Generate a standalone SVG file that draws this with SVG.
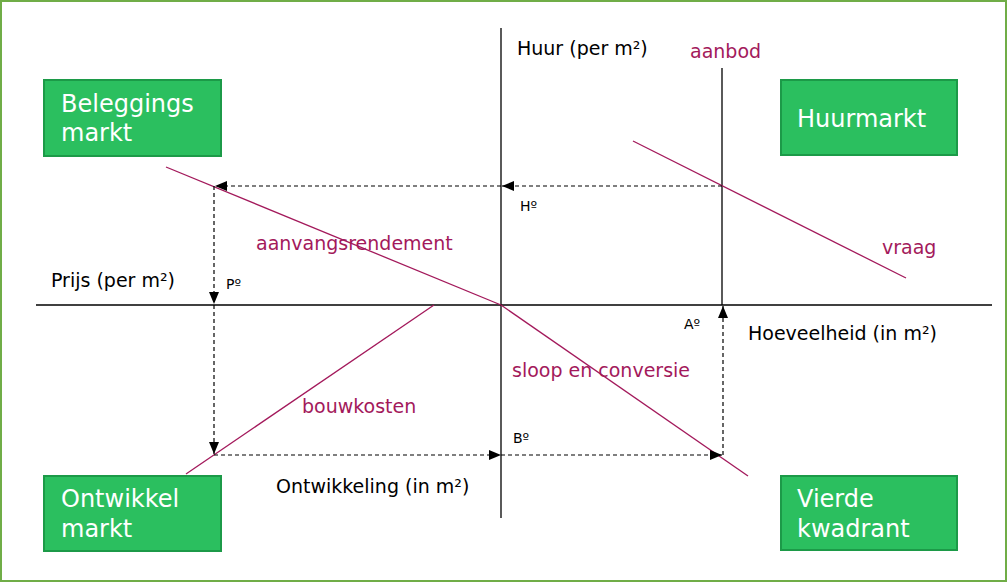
<svg xmlns="http://www.w3.org/2000/svg" width="1007" height="582" viewBox="0 0 1007 582">
<style>
text{font-family:"DejaVu Sans",Verdana,sans-serif}
.lbl{font-size:19px;fill:#000}
.red{font-size:19px;fill:#a3195b}
.sm{font-size:14px;fill:#000}
.box rect{fill:#2bbf5f;stroke:#1c9a48;stroke-width:2}
.box text{font-size:24px;fill:#fff}
.ax{stroke:#000;stroke-width:1.3;fill:none}
.cv{stroke:#a3195b;stroke-width:1.3;fill:none}
.ds{stroke:#000;stroke-width:1.2;stroke-dasharray:4,3;fill:none}
</style>
<defs><marker id="a" markerWidth="12" markerHeight="10" refX="12" refY="5" orient="auto" markerUnits="userSpaceOnUse"><path d="M0,0L12,5L0,10Z" fill="#000"/></marker></defs>
<rect x="1" y="1" width="1005" height="580" fill="#fff" stroke="#70ad47" stroke-width="2"/>
<g id="connectors">
<line class="ax" x1="36" y1="305" x2="992" y2="305"/>
<line class="ax" x1="501" y1="28" x2="501" y2="518"/>
<line class="ax" x1="722" y1="68" x2="722" y2="305"/>
<line class="cv" x1="633" y1="141" x2="906" y2="278"/>
<line class="cv" x1="166" y1="167" x2="501" y2="305"/>
<line class="cv" x1="501" y1="305" x2="748" y2="476"/>
<line class="cv" x1="186" y1="474" x2="434" y2="305"/>
<path class="ds" d="M722,186H502" marker-end="url(#a)"/>
<path class="ds" d="M501,186H215" marker-end="url(#a)"/>
<path class="ds" d="M214,186V304" marker-end="url(#a)"/>
<path class="ds" d="M214,305V454" marker-end="url(#a)"/>
<path class="ds" d="M214,455H501" marker-end="url(#a)"/>
<path class="ds" d="M501,455H722" marker-end="url(#a)"/>
<path class="ds" d="M723,455V306" marker-end="url(#a)"/>
</g>
<g id="beleggings" class="box"><rect x="44" y="80" width="177" height="76"/><text x="61" y="112">Beleggings</text><text x="61" y="141">markt</text></g>
<g id="huurmarkt" class="box"><rect x="781" y="80" width="176" height="75"/><text x="797" y="127">Huurmarkt</text></g>
<g id="ontwikkel" class="box"><rect x="44" y="476" width="177" height="75"/><text x="61" y="507">Ontwikkel</text><text x="61" y="537">markt</text></g>
<g id="vierde" class="box"><rect x="781" y="476" width="176" height="74"/><text x="797" y="507">Vierde</text><text x="797" y="537">kwadrant</text></g>
<g id="labels">
<text class="lbl" x="517" y="55">Huur (per m²)</text>
<text class="red" x="690" y="58">aanbod</text>
<text class="red" x="882" y="254">vraag</text>
<text class="red" x="256" y="250">aanvangsrendement</text>
<text class="lbl" x="51" y="287">Prijs (per m²)</text>
<text class="lbl" x="748" y="340">Hoeveelheid (in m²)</text>
<text class="red" x="512" y="377">sloop en conversie</text>
<text class="red" x="302" y="413">bouwkosten</text>
<text class="lbl" x="276" y="493">Ontwikkeling (in m²)</text>
<text class="sm" x="520" y="211">Hº</text>
<text class="sm" x="226" y="289">Pº</text>
<text class="sm" x="684" y="329">Aº</text>
<text class="sm" x="513" y="443">Bº</text>
</g>
</svg>
